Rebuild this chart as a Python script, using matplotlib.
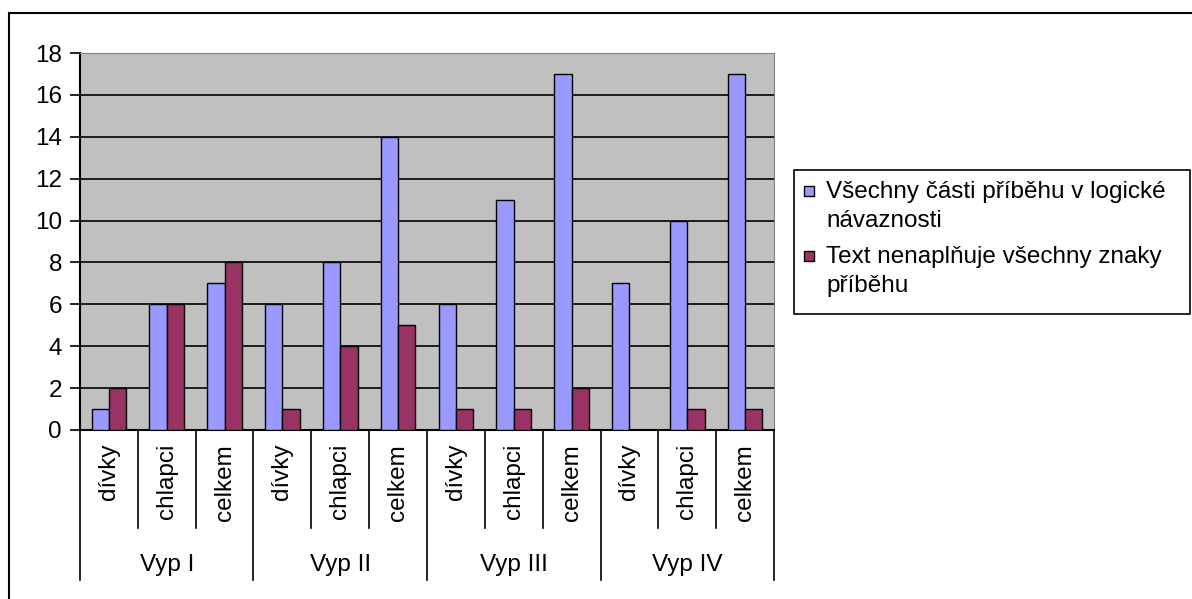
import matplotlib.pyplot as plt
import numpy as np
from matplotlib.patches import Rectangle
from matplotlib.transforms import blended_transform_factory

plt.rcParams['font.family'] = ['Liberation Sans', 'DejaVu Sans']

groups = ["Vyp I", "Vyp II", "Vyp III", "Vyp IV"]
subcats = ["dívky", "chlapci", "celkem"]
series_names = ["Všechny části příběhu v logické\nnávaznosti",
                "Text nenaplňuje všechny znaky\npříběhu"]
logicke = [1, 6, 7, 6, 8, 14, 6, 11, 17, 7, 10, 17]
nenaplnuje = [2, 6, 8, 1, 4, 5, 1, 1, 2, 0, 1, 1]
colors = ['#9999FF', '#993366']

W, H = 1192, 599
FS = 17.5
fig = plt.figure(figsize=(W / 100, H / 100), dpi=100)


def fy(py):
    # pixel row from the top -> figure fraction
    return 1 - py / H


# outer chart frame (right and bottom edges fall outside the canvas)
fig.patches.append(Rectangle((9 / W, fy(650)), 1300 / W, (650 - 13) / H,
                             transform=fig.transFigure, fill=False,
                             edgecolor='black', linewidth=1.5))

ax = fig.add_axes([80 / W, fy(430), (774 - 80) / W, (430 - 53) / H])
ax.set_facecolor('#C0C0C0')

x = np.arange(len(logicke))
bw = 0.3
ax.bar(x - bw / 2, logicke, bw, color=colors[0], edgecolor='black',
       linewidth=1, zorder=3)
ax.bar(x + bw / 2, nenaplnuje, bw, color=colors[1], edgecolor='black',
       linewidth=1, zorder=3)

ax.set_xlim(-0.5, len(logicke) - 0.5)
ax.set_ylim(0, 18)
ax.set_yticks(range(0, 19, 2))
ax.yaxis.grid(True, color='black', linewidth=1.2)
ax.set_axisbelow(True)
ax.tick_params(axis='y', labelsize=FS, length=7, width=1.2, pad=6)
ax.set_xticks([])
for s in ['top', 'right']:
    ax.spines[s].set_color('#808080')
for s in ['left', 'bottom']:
    ax.spines[s].set_linewidth(1.5)

# two-level category axis below the plot
trans = blended_transform_factory(ax.transData, fig.transFigure)
for i in range(len(logicke) + 1):
    b = i - 0.5
    bottom = 580 if i % 3 == 0 else 528
    ax.plot([b, b], [fy(430), fy(bottom)], transform=trans,
            color='black', linewidth=1.2, clip_on=False)
for i in x:
    ax.text(i, fy(444), subcats[i % 3], transform=trans, rotation=90,
            ha='center', va='top', fontsize=FS)
for g, name in enumerate(groups):
    ax.text(3 * g + 1, fy(565), name, transform=trans,
            ha='center', va='center', fontsize=FS)

# legend box with square keys next to the first line of each entry
fig.patches.append(Rectangle((794 / W, fy(314)), (1190 - 794) / W,
                             (314 - 170) / H, transform=fig.transFigure,
                             facecolor='white', edgecolor='black',
                             linewidth=1.2))
first_baselines = [198, 263]
for k, name in enumerate(series_names):
    y0 = first_baselines[k]
    fig.patches.append(Rectangle((804 / W, fy(y0 - 2)), 10 / W, 10 / H,
                                 transform=fig.transFigure,
                                 facecolor=colors[k], edgecolor='black',
                                 linewidth=1))
    for j, line in enumerate(name.split('\n')):
        fig.text(826 / W, fy(y0 + 29 * j), line, fontsize=FS,
                 ha='left', va='baseline')

fig.savefig('out.png', dpi=100)
